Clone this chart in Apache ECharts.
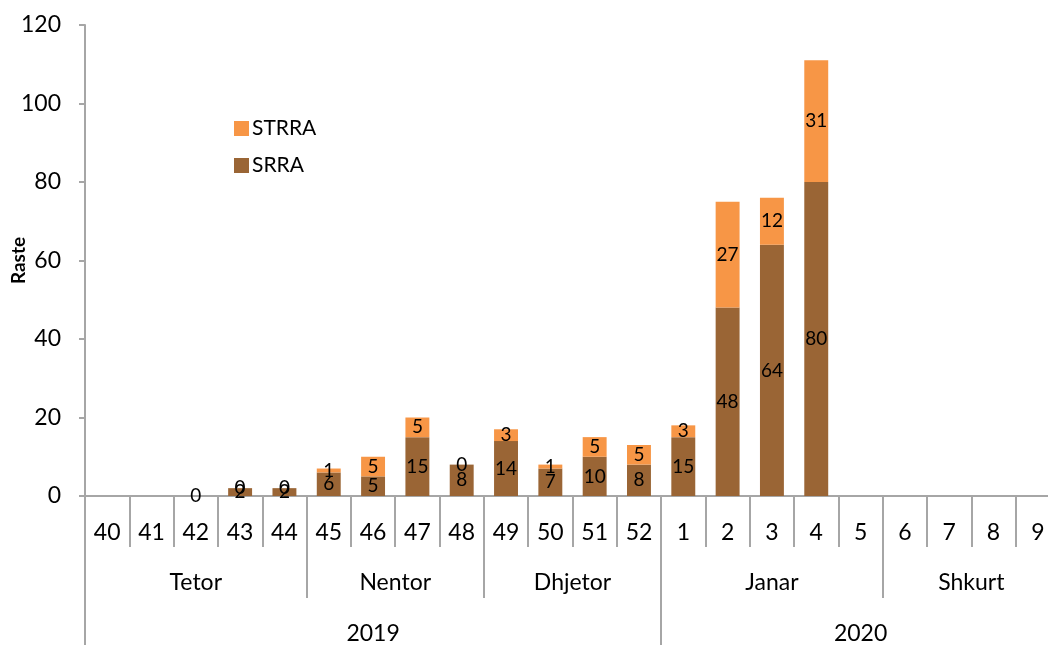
<!DOCTYPE html>
<html><head><meta charset="utf-8">
<script src="https://cdn.jsdelivr.net/npm/echarts@6/dist/echarts.min.js"></script>
<style>html,body{margin:0;padding:0;background:#fff}#c{width:1048px;height:645px}</style>
</head><body><div id="c"></div>
<script>
const weeks = ['40','41','42','43','44','45','46','47','48','49','50','51','52','1','2','3','4','5','6','7','8','9'];
const srra  = [null,null,0,2,2,6,5,15,8,14,7,10,8,15,48,64,80,null,null,null,null,null];
const strra = [null,null,null,0,0,1,5,5,0,3,1,5,5,3,27,12,31,null,null,null,null,null];
const months = [{name:'Tetor',weeks:5},{name:'Nentor',weeks:4},{name:'Dhjetor',weeks:4},{name:'Janar',weeks:5},{name:'Shkurt',weeks:4}];
const years = [{name:'2019',weeks:13},{name:'2020',weeks:9}];
const yTicks = {min:0,max:120,interval:20};

function groupAxis(groups){
  const n = weeks.length*2+1;
  const labels = new Array(n).fill('');
  const bounds = new Set([0]);
  let start = 0;
  groups.forEach(g=>{
    labels[start + g.weeks] = g.name;
    start += g.weeks*2;
    bounds.add(start);
  });
  return {labels, bounds};
}
const mA = groupAxis(months), yA = groupAxis(years);
const font = 'Lato, "Open Sans", sans-serif';
const gray = '#A6A6A6';

const chart = echarts.init(document.getElementById('c'));
chart.setOption({
  animation:false,
  textStyle:{fontFamily:font},
  grid:{left:85, width:975, top:25, bottom:149, containLabel:false, outerBoundsMode:'none'},
  legend:{
    orient:'vertical', left:229, top:113, itemWidth:15, itemHeight:15, itemGap:16,
    icon:'rect', data:['STRRA','SRRA'],
    textStyle:{fontSize:21, color:'#000', fontFamily:font, padding:[0,0,0,-2]}
  },
  xAxis:[
    {type:'category', data:weeks, position:'bottom', boundaryGap:true,
     axisLine:{lineStyle:{color:gray, width:2}},
     axisTick:{show:true, interval:0, length:51, lineStyle:{color:gray, width:2}},
     axisLabel:{interval:0, fontSize:23, color:'#000', margin:25}},
    {type:'category', data:mA.labels, position:'bottom', offset:51, boundaryGap:false,
     axisLine:{show:false},
     axisTick:{show:true, length:51, interval:(i)=>mA.bounds.has(i), lineStyle:{color:gray, width:2}},
     axisLabel:{interval:0, fontSize:23, color:'#000', margin:24}},
    {type:'category', data:yA.labels, position:'bottom', offset:102, boundaryGap:false,
     axisLine:{show:false},
     axisTick:{show:true, length:50, interval:(i)=>yA.bounds.has(i), lineStyle:{color:gray, width:2}},
     axisLabel:{interval:0, fontSize:23, color:'#000', margin:24}}
  ],
  yAxis:{
    type:'value', min:yTicks.min, max:yTicks.max, interval:yTicks.interval,
    name:'Raste', nameLocation:'middle', nameGap:57, nameRotate:90, nameMoveOverlap:false,
    nameTextStyle:{fontSize:19, fontWeight:'bold', color:'#000', fontFamily:font},
    axisLine:{show:true, lineStyle:{color:gray, width:2}},
    axisTick:{show:true, length:6, lineStyle:{color:gray, width:2}},
    axisLabel:{fontSize:23, color:'#000', margin:24},
    splitLine:{show:false}
  },
  series:[
    {name:'SRRA', type:'bar', stack:'a', data:srra, barWidth:'54%',
     itemStyle:{color:'#9A6535'},
     label:{show:true, position:'inside', fontSize:19, color:'#000', fontFamily:font}},
    {name:'STRRA', type:'bar', stack:'a', data:strra, barWidth:'54%',
     itemStyle:{color:'#F79646'},
     label:{show:true, position:'inside', fontSize:19, color:'#000', fontFamily:font}}
  ]
});
</script></body></html>
